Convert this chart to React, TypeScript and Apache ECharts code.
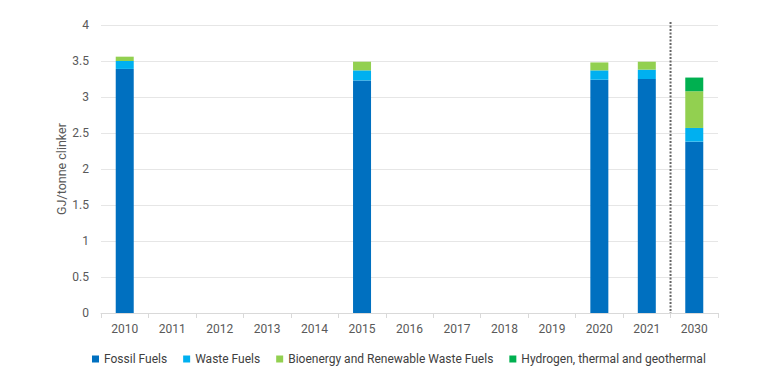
import React, { useEffect, useRef } from "react";
import * as echarts from "echarts";

const years = ["2010", "2011", "2012", "2013", "2014", "2015", "2016", "2017", "2018", "2019", "2020", "2021", "2030"];
const fossil = [3.39, null, null, null, null, 3.23, null, null, null, null, 3.24, 3.25, 2.38];
const waste = [0.11, null, null, null, null, 0.14, null, null, null, null, 0.13, 0.13, 0.19];
const bio = [0.06, null, null, null, null, 0.12, null, null, null, null, 0.11, 0.11, 0.51];
const hydrogen = [null, null, null, null, null, null, null, null, null, null, null, null, 0.19];
// divider sits between these two categories
const dividerBetween = ["2021", "2030"];

const FONT = "Roboto, 'Liberation Sans', sans-serif";

export default function App() {
  const ref = useRef<HTMLDivElement>(null);
  useEffect(() => {
    const chart = echarts.init(ref.current!, null, { renderer: "svg" });
    const mk = (name: string, data: any[], color: string) => ({
      name,
      type: "bar",
      stack: "total",
      data,
      barWidth: 18,
      itemStyle: { color },
      emphasis: { disabled: true },
    });
    chart.setOption({
      animation: false,
      textStyle: { fontFamily: FONT },
      grid: { left: 93, right: 60, top: 17, bottom: 75 },
      legend: {
        left: 79,
        top: 340,
        itemWidth: 7,
        itemHeight: 7,
        itemGap: 16,
        icon: "rect",
        textStyle: { fontSize: 12, color: "#404040", fontFamily: FONT },
        data: ["Fossil Fuels", "Waste Fuels", "Bioenergy and Renewable Waste Fuels", "Hydrogen, thermal and geothermal"],
      },
      xAxis: {
        type: "category",
        data: years,
        axisLine: { lineStyle: { color: "#d9d9d9" } },
        axisTick: { show: true, lineStyle: { color: "#d9d9d9" } },
        axisLabel: { color: "#595959", fontSize: 12, fontFamily: FONT, margin: 10 },
      },
      yAxis: {
        type: "value",
        min: 0,
        max: 4,
        interval: 0.5,
        name: "GJ/tonne clinker",
        nameLocation: "middle",
        nameGap: 33,
        nameMoveOverlap: false,
        nameTextStyle: { color: "#595959", fontSize: 12.5, fontFamily: FONT },
        axisLine: { show: false },
        axisTick: { show: false },
        axisLabel: { color: "#595959", fontSize: 12, fontFamily: FONT, margin: 12 },
        splitLine: { lineStyle: { color: "#e6e6e6" } },
      },
      series: [
        mk("Fossil Fuels", fossil, "#0070C0"),
        mk("Waste Fuels", waste, "#00B0F0"),
        mk("Bioenergy and Renewable Waste Fuels", bio, "#92D050"),
        mk("Hydrogen, thermal and geothermal", hydrogen, "#00B050"),
      ],
    });
    const xa = chart.convertToPixel({ xAxisIndex: 0 }, dividerBetween[0]) as number;
    const xb = chart.convertToPixel({ xAxisIndex: 0 }, dividerBetween[1]) as number;
    const yTop = chart.convertToPixel({ yAxisIndex: 0 }, 4) as number;
    const yBottom = chart.convertToPixel({ yAxisIndex: 0 }, 0) as number;
    const x = (xa + xb) / 2;
    chart.setOption({
      graphic: [
        {
          type: "line",
          silent: true,
          shape: { x1: x, y1: yTop - 3, x2: x, y2: yBottom },
          style: { stroke: "#666666", lineWidth: 2, lineDash: [2, 1.5] },
          z: 10,
        },
      ],
    });
    return () => chart.dispose();
  }, []);
  return <div ref={ref} style={{ width: 770, height: 380 }} />;
}
